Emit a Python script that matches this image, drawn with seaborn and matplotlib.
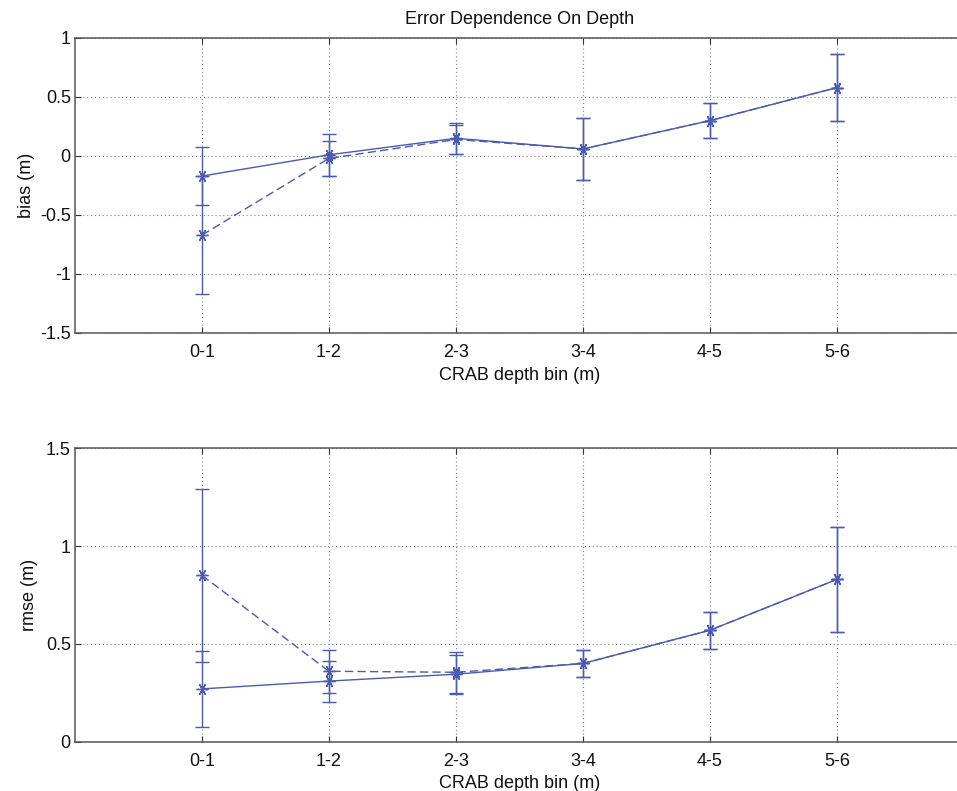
import numpy as np
import pandas as pd
import matplotlib
matplotlib.use("Agg")
import matplotlib.pyplot as plt
import seaborn as sns

categories = ['0-1', '1-2', '2-3', '3-4', '4-5', '5-6']
bias_solid = [-0.17, 0.01, 0.15, 0.06, 0.30, 0.58]
bias_solid_err = [0.245, 0.18, 0.13, 0.26, 0.145, 0.285]
bias_dashed = [-0.67, -0.02, 0.14, 0.06, 0.30, 0.58]
bias_dashed_err = [0.50, 0.15, 0.12, 0.26, 0.145, 0.285]
rmse_solid = [0.27, 0.31, 0.345, 0.40, 0.57, 0.83]
rmse_solid_err = [0.195, 0.105, 0.10, 0.07, 0.095, 0.27]
rmse_dashed = [0.85, 0.36, 0.355, 0.40, 0.57, 0.83]
rmse_dashed_err = [0.44, 0.11, 0.105, 0.07, 0.095, 0.27]

sns.set_theme(style="white")
plt.rcParams['font.family'] = ['Liberation Sans', 'DejaVu Sans']

color = '#4a5bb0'
textc = '#111111'
fs = 13
xpos = np.arange(1, len(categories) + 1)

fig = plt.figure(figsize=(9.57, 7.91), dpi=100)
ax1 = fig.add_axes([75 / 957, 458 / 791, 889 / 957, 295 / 791])
ax2 = fig.add_axes([75 / 957, 49.3 / 791, 889 / 957, 293.4 / 791])

asterisk = (6, 2, 90)


def draw(ax, solid, solid_err, dashed, dashed_err):
    df = pd.DataFrame({'x': np.concatenate([xpos, xpos]),
                       'y': np.concatenate([solid, dashed]),
                       'series': ['solid'] * len(xpos) + ['dashed'] * len(xpos)})
    ax.errorbar(xpos, dashed, yerr=dashed_err, fmt='none', ecolor=color,
                elinewidth=1.0, capsize=4.7, capthick=1.0, zorder=2)
    ax.errorbar(xpos, solid, yerr=solid_err, fmt='none', ecolor=color,
                elinewidth=1.0, capsize=4.7, capthick=1.0, zorder=2)
    sns.lineplot(data=df, x='x', y='y', style='series',
                 dashes={'solid': '', 'dashed': (6, 3)},
                 markers={'solid': asterisk, 'dashed': asterisk},
                 markersize=8.5, markeredgewidth=1.0, markeredgecolor=color,
                 color=color, linewidth=1.0, legend=False, ax=ax, zorder=3)
    ax.set_xlim(0, 7)
    ax.set_xticks(xpos)
    ax.set_xticklabels(categories)
    ax.grid(True, linestyle=(0, (1, 2.5)), color='#808080', linewidth=0.8)
    ax.tick_params(direction='in', length=4, width=0.8, colors='#333333',
                   labelsize=fs, labelcolor=textc, top=True, right=True,
                   bottom=True, left=True)
    ax.tick_params(axis='x', pad=8)
    ax.tick_params(axis='y', pad=3)
    for s in ax.spines.values():
        s.set_color('#555555')
        s.set_linewidth(1.1)
    ax.set_xlabel('CRAB depth bin (m)', fontsize=fs, color=textc, labelpad=4)


draw(ax1, bias_solid, bias_solid_err, bias_dashed, bias_dashed_err)
ax1.set_ylim(-1.5, 1)
ax1.set_yticks([-1.5, -1, -0.5, 0, 0.5, 1])
ax1.set_yticklabels(['-1.5', '-1', '-0.5', '0', '0.5', '1'])
ax1.set_ylabel('bias (m)', fontsize=fs, color=textc)
ax1.yaxis.set_label_coords(-0.045, 0.5)
ax1.set_title('Error Dependence On Depth', fontsize=fs, color=textc, pad=10)

draw(ax2, rmse_solid, rmse_solid_err, rmse_dashed, rmse_dashed_err)
ax2.set_ylim(0, 1.5)
ax2.set_yticks([0, 0.5, 1, 1.5])
ax2.set_yticklabels(['0', '0.5', '1', '1.5'])
ax2.set_ylabel('rmse (m)', fontsize=fs, color=textc)
ax2.yaxis.set_label_coords(-0.042, 0.5)

fig.savefig('out.png', dpi=100)
